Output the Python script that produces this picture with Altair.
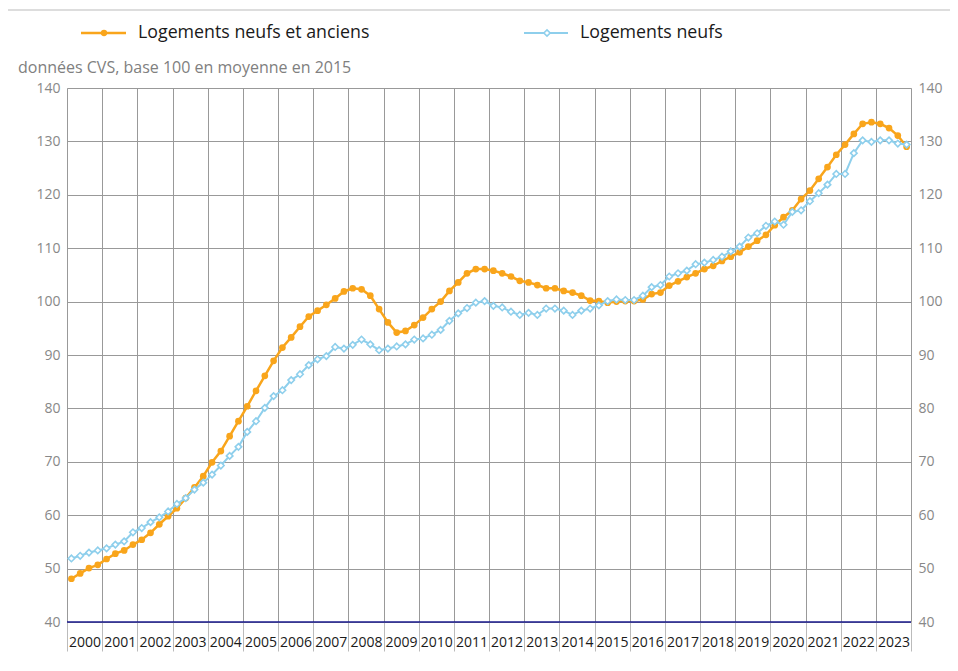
import altair as alt
import pandas as pd

years = list(range(2000, 2024))
quarters = [1, 2, 3, 4]

series_names = ["Logements neufs et anciens", "Logements neufs"]
subtitle = "données CVS, base 100 en moyenne en 2015"

neufs_anciens = [
    48.1, 49.1, 50.1, 50.7,
    51.8, 52.8, 53.4, 54.5,
    55.4, 56.7, 58.3, 59.8,
    61.3, 63.2, 65.2, 67.3,
    69.9, 72.0, 74.8, 77.6,
    80.4, 83.3, 86.1, 88.9,
    91.4, 93.3, 95.3, 97.2,
    98.3, 99.4, 100.6, 101.9,
    102.5, 102.3, 101.1, 98.6,
    96.1, 94.2, 94.5, 95.6,
    97.0, 98.6, 100.0, 102.0,
    103.6, 105.3, 106.1, 106.1,
    105.8, 105.3, 104.7, 103.9,
    103.6, 103.1, 102.5, 102.5,
    102.0, 101.7, 101.1, 100.2,
    100.1, 99.8, 100.0, 100.1,
    100.1, 100.4, 101.4, 101.7,
    103.0, 103.8, 104.6, 105.3,
    106.1, 106.7, 107.6, 108.4,
    109.2, 110.3, 111.4, 112.5,
    114.3, 115.8, 117.1, 119.2,
    120.8, 123.0, 125.2, 127.5,
    129.4, 131.4, 133.3, 133.6,
    133.3, 132.5, 131.1, 129.0,
]

neufs = [
    51.9, 52.4, 53.0, 53.4,
    53.8, 54.5, 55.1, 56.8,
    57.6, 58.7, 59.6, 60.7,
    62.1, 63.2, 64.8, 66.1,
    67.6, 69.3, 71.1, 72.8,
    75.6, 77.6, 80.1, 82.3,
    83.4, 85.3, 86.4, 88.1,
    89.2, 89.8, 91.5, 91.2,
    91.9, 92.9, 92.0, 90.9,
    91.2, 91.6, 92.0, 92.9,
    93.1, 93.8, 94.7, 96.4,
    97.8, 98.8, 99.8, 100.1,
    99.2, 98.9, 98.1, 97.5,
    97.9, 97.5, 98.7, 98.7,
    98.3, 97.5, 98.3, 98.7,
    99.3, 100.1, 100.4, 100.3,
    100.3, 101.1, 102.7, 103.1,
    104.7, 105.3, 105.8, 107.0,
    107.3, 107.8, 108.4, 109.4,
    110.3, 112.0, 112.8, 114.2,
    115.0, 114.4, 116.8, 117.1,
    118.8, 120.3, 121.9, 123.9,
    123.9, 127.8, 130.2, 129.9,
    130.2, 130.2, 129.6, 129.4,
]

y_ticks = list(range(40, 141, 10))

ORANGE = "#F9A51B"
BLUE = "#8ECFEC"
GRID = "#999999"
FONT = "Open Sans"

rows = []
for i, yr in enumerate(years):
    for q in quarters:
        k = i * 4 + (q - 1)
        rows.append({"t": yr + (q - 0.5) / 4, "na": neufs_anciens[k], "n": neufs[k]})
df = pd.DataFrame(rows)

xscale = alt.Scale(domain=[years[0], years[-1] + 1], nice=False, zero=False)
yscale = alt.Scale(domain=[40, 140], nice=False, zero=False)

x_axis = alt.Axis(
    values=years + [years[-1] + 1], grid=True, gridColor=GRID, gridWidth=1,
    domain=False, ticks=True, tickSize=29, tickColor="#bbbbbb", tickWidth=1,
    labelOffset=17.6, labelAlign="center", labelFlush=False, labelOverlap=False,
    labelExpr="datum.value == 2024 ? '' : '' + datum.value",
    labelFont=FONT, labelFontSize=14, labelColor="#1a1a1a", labelPadding=-16,
    title=None,
)
y_left = alt.Axis(
    values=y_ticks, grid=True, gridColor=GRID, gridWidth=1, domain=False,
    ticks=False, labelPadding=7, labelFont=FONT, labelFontSize=14,
    labelColor="#888888", title=None, orient="left",
)
y_right = alt.Axis(
    values=y_ticks, grid=False, domain=False, ticks=False, labelPadding=7,
    labelFont=FONT, labelFontSize=14, labelColor="#888888", title=None,
    orient="right",
)

base = alt.Chart(df)
X = alt.X("t:Q", scale=xscale, axis=x_axis)

orange_line = base.mark_line(color=ORANGE, strokeWidth=2.5).encode(
    x=X,
    y=alt.Y("na:Q", scale=yscale, axis=y_left),
)
orange_pts = base.mark_point(shape="circle", filled=True, color=ORANGE, size=45, opacity=1).encode(
    x=X,
    y=alt.Y("na:Q", scale=yscale, axis=None),
)
blue_line = base.mark_line(color=BLUE, strokeWidth=2).encode(
    x=X,
    y=alt.Y("n:Q", scale=yscale, axis=y_right),
)
blue_pts = base.mark_point(shape="diamond", filled=True, fill="white", stroke=BLUE,
                           strokeWidth=1.6, size=42, opacity=1).encode(
    x=X,
    y=alt.Y("n:Q", scale=yscale, axis=None),
)

dummy = alt.Chart(pd.DataFrame({"a": [0]}))

base_rule = dummy.mark_rule(color="#1a1a8c", strokeWidth=1.6).encode(
    y=alt.YDatum(40, scale=yscale, axis=None),
)

top_frame = dummy.mark_rule(color="#dddddd", strokeWidth=2).encode(
    x=alt.value(-59), x2=alt.value(883), y=alt.value(-78)
)

leg1_line = dummy.mark_rule(color=ORANGE, strokeWidth=2.5).encode(
    x=alt.value(14), x2=alt.value(59), y=alt.value(-55)
)
leg1_pt = dummy.mark_point(shape="circle", filled=True, color=ORANGE, size=40, opacity=1).encode(
    x=alt.value(37), y=alt.value(-55)
)
leg1_txt = dummy.mark_text(align="left", baseline="middle", font=FONT, fontSize=17.8, color="#1a1a1a",
                           text=series_names[0]).encode(x=alt.value(71), y=alt.value(-55))

leg2_line = dummy.mark_rule(color=BLUE, strokeWidth=2).encode(
    x=alt.value(457), x2=alt.value(501), y=alt.value(-55)
)
leg2_pt = dummy.mark_point(shape="diamond", filled=True, fill="white", stroke=BLUE,
                           strokeWidth=1.6, size=40, opacity=1).encode(
    x=alt.value(480), y=alt.value(-55)
)
leg2_txt = dummy.mark_text(align="left", baseline="middle", font=FONT, fontSize=17.8, color="#1a1a1a",
                           text=series_names[1]).encode(x=alt.value(513), y=alt.value(-55))

sub_txt = dummy.mark_text(align="left", baseline="middle", font=FONT, fontSize=16, color="#808080",
                          text=subtitle).encode(x=alt.value(-49), y=alt.value(-20))

chart = alt.layer(
    orange_line, orange_pts, blue_line, blue_pts, base_rule,
    top_frame, leg1_line, leg1_pt, leg1_txt, leg2_line, leg2_pt, leg2_txt, sub_txt,
).resolve_axis(y="independent").properties(
    width=844,
    height=534,
    autosize=alt.AutoSizeParams(type="none"),
    padding={"left": 59, "top": 80, "right": 39, "bottom": 41},
).configure_view(stroke=GRID, strokeWidth=1).configure(background="white")

chart.save("out.html", embed_options={"renderer": "svg", "actions": False})
